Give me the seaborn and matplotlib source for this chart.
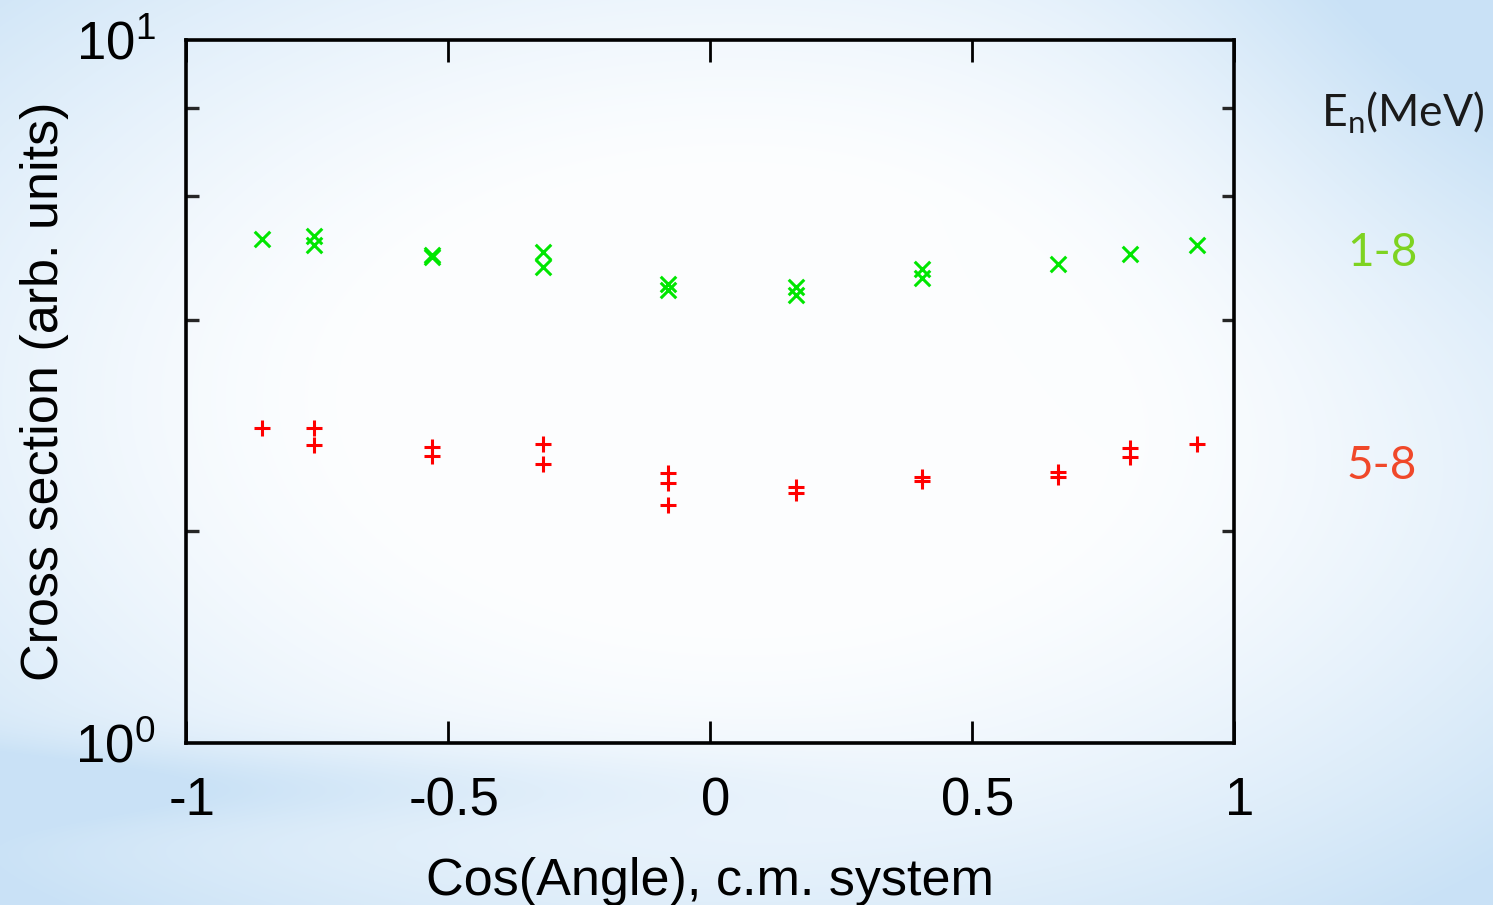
import numpy as np
import pandas as pd
import matplotlib
matplotlib.use("Agg")
import matplotlib.pyplot as plt
import matplotlib.transforms as mtransforms
from matplotlib.ticker import FixedLocator, NullLocator, FixedFormatter
import seaborn as sns

# Angular distributions, two neutron-energy groups
cos_1_8 = [-0.855, -0.756, -0.756, -0.531, -0.531, -0.319, -0.319, -0.080, -0.080,
           0.164, 0.164, 0.405, 0.405, 0.664, 0.802, 0.929]
xs_1_8 = [5.21, 5.26, 5.11, 4.94, 4.91, 4.99, 4.76, 4.50, 4.41,
          4.46, 4.34, 4.72, 4.59, 4.80, 4.96, 5.11]

cos_5_8 = [-0.855, -0.756, -0.756, -0.531, -0.531, -0.319, -0.319, -0.080, -0.080, -0.080,
           0.164, 0.164, 0.405, 0.405, 0.664, 0.664, 0.802, 0.802, 0.929]
xs_5_8 = [2.81, 2.81, 2.65, 2.64, 2.56, 2.66, 2.49, 2.42, 2.34, 2.18,
          2.31, 2.27, 2.39, 2.36, 2.43, 2.39, 2.63, 2.55, 2.66]

x_ticks = [-1, -0.5, 0, 0.5, 1]
x_tick_labels = ["-1", "-0.5", "0", "0.5", "1"]
y_ticks = [1, 10]
y_tick_labels = [r"$\mathregular{10^{0}}$", r"$\mathregular{10^{1}}$"]
y_minor = [2, 4, 6, 8]

df18 = pd.DataFrame({"cos": cos_1_8, "xs": xs_1_8})
df58 = pd.DataFrame({"cos": cos_5_8, "xs": xs_5_8})

sns.set_theme(style="white")
plt.rcParams["font.family"] = ["Liberation Sans", "DejaVu Sans"]

W, H = 1493, 905
fig = plt.figure(figsize=(W / 100, H / 100), dpi=100)

# soft blue backdrop, pale in the middle
bg = fig.add_axes([0, 0, 1, 1], zorder=-10)
yy, xx = np.mgrid[0:H, 0:W]
d = np.sqrt(((xx - 740) / 950.0) ** 2 + ((yy - 400) / 560.0) ** 2)
t = np.clip((d - 0.40) / 0.75, 0, 1) ** 1.4
band = np.exp(-((yy - 785) / 40.0) ** 2) * np.clip(1 - xx / 1000.0, 0, 1) * 0.55
corner = np.exp(-(((xx - 1493) / 300.0) ** 2 + ((yy - 0) / 300.0) ** 2)) * 0.45
t = np.clip(t + band + corner, 0, 1)
white = np.array([0.99, 0.995, 1.0])
blue = np.array([0.79, 0.885, 0.965])
img = white[None, None, :] * (1 - t[..., None]) + blue[None, None, :] * t[..., None]
bg.imshow(img, aspect="auto", extent=[0, 1, 0, 1], origin="upper")
bg.set_axis_off()

ax = fig.add_axes([186 / W, 1 - 743 / H, (1234 - 186) / W, (743 - 40) / H])
ax.patch.set_alpha(0)

sns.scatterplot(data=df18, x="cos", y="xs", marker="x", s=125, color="#00e600",
                linewidth=2.2, ax=ax, zorder=3)
sns.scatterplot(data=df58, x="cos", y="xs", marker="+", s=125, color="#ff0000",
                linewidth=2.2, ax=ax, zorder=3)

ax.set_yscale("log")
ax.set_xlim(-1, 1)
ax.set_ylim(1, 10)

ax.xaxis.set_major_locator(FixedLocator(x_ticks))
ax.xaxis.set_major_formatter(FixedFormatter(x_tick_labels))
ax.xaxis.set_minor_locator(NullLocator())
ax.yaxis.set_major_locator(FixedLocator(y_ticks))
ax.yaxis.set_major_formatter(FixedFormatter(y_tick_labels))
ax.yaxis.set_minor_locator(FixedLocator(y_minor))
ax.yaxis.set_minor_formatter(FixedFormatter([""] * len(y_minor)))

for s in ax.spines.values():
    s.set_visible(True)
    s.set_color("black")
    s.set_linewidth(2.6)

ax.tick_params(axis="x", which="major", direction="in", length=16, width=2.0,
               top=True, bottom=True, labelsize=38, pad=24, colors="black")
ax.tick_params(axis="y", which="major", direction="in", length=0, width=2.0,
               left=True, right=True, labelsize=38, pad=22, colors="black")
ax.tick_params(axis="y", which="minor", direction="in", length=9, width=2.4,
               left=True, right=True)

# x tick labels sit a few pixels right of their ticks
shift = mtransforms.ScaledTranslation(6 / 100, 0, fig.dpi_scale_trans)
for lab in ax.get_xticklabels():
    lab.set_transform(lab.get_transform() + shift)
for lab in ax.get_xticklabels() + ax.get_yticklabels():
    lab.set_color("black")

ax.set_xlabel("Cos(Angle), c.m. system", fontsize=37.5, color="black")
ax.set_ylabel("Cross section (arb. units)", fontsize=37.5, color="black")
ax.xaxis.set_label_coords(0.5, -0.162)
ax.yaxis.set_label_coords(-0.112, 0.5)

# energy-group legend on the right
fig.text(1403 / W, 1 - 113 / H, r"E$_\mathregular{n}$(MeV)", fontsize=32,
         family=["Lato", "DejaVu Sans"], color="#1a1a1a", ha="center", va="center")
fig.text(1382 / W, 1 - 253 / H, "1-8", fontsize=33, family=["Lato", "DejaVu Sans"],
         color="#7ed321", ha="center", va="center")
fig.text(1382 / W, 1 - 466 / H, "5-8", fontsize=33, family=["Lato", "DejaVu Sans"],
         color="#f0482a", ha="center", va="center")

fig.savefig("out.png", dpi=100)
